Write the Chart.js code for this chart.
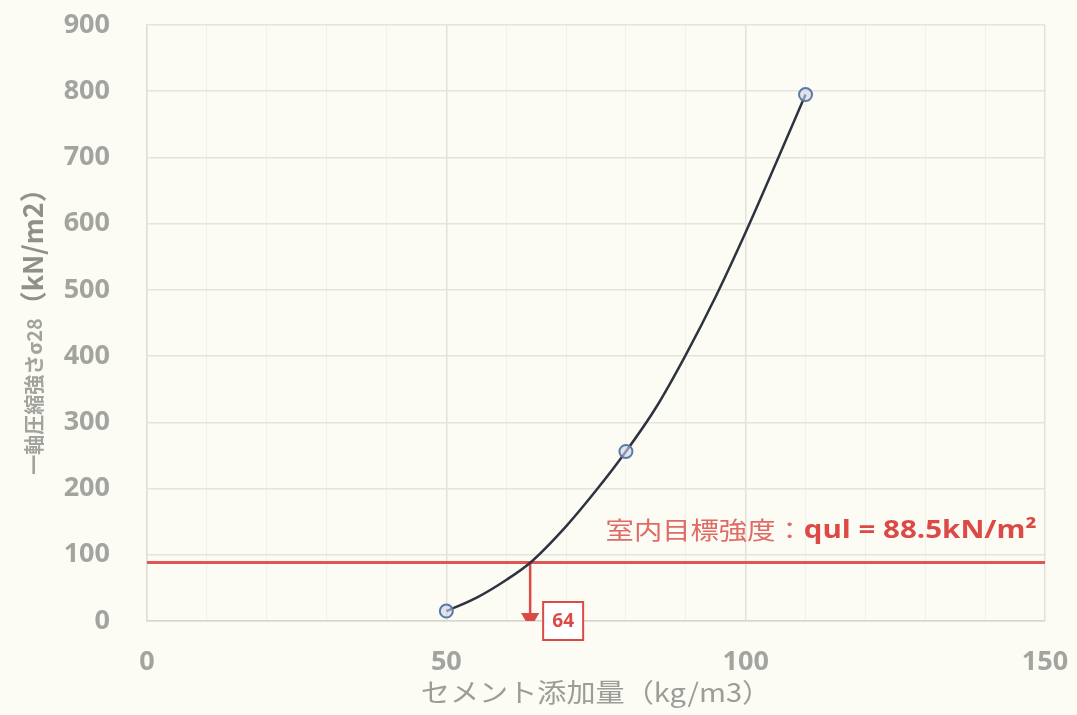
<!DOCTYPE html>
<html>
<head>
<meta charset="utf-8">
<script src="https://cdn.jsdelivr.net/npm/chart.js@4.4.1/dist/chart.umd.min.js"></script>
<style>
  html, body { margin: 0; padding: 0; background: #fcfcf5; }
  #wrap { width: 1077px; height: 715px; position: relative; }
</style>
</head>
<body>
<div id="wrap"><canvas id="c" width="1077" height="715"></canvas></div>
<script>
// ---- data ----
const measuredX = [50, 80, 110];                 // セメント添加量 (kg/m3)
const measuredY = [15, 256, 795];                // 一軸圧縮強さ (kN/m2)
const curveX = [50, 55, 60, 64, 70, 75, 80, 85, 90, 95, 100, 105, 110];
const curveY = [15, 35, 62, 88, 143, 197, 256, 322, 402, 490, 587, 690, 795];
const targetStrength = 88.5;                     // qul
const targetLineX = [0, 150];
const requiredCement = 64;
const arrowEndY = 4;
const xTickLabels = [0, 50, 100, 150];
const yTickLabels = [0, 100, 200, 300, 400, 500, 600, 700, 800, 900];
const xTitle = 'セメント添加量（kg/m3）';
const yTitleA = '一軸圧縮強さσ28';
const yTitleB = '（kN/m2）';
const targetLabelA = '室内目標強度：';
const targetLabelB = 'qul = 88.5kN/m²';

const RED = '#dc4a46';
const GRAY = '#a3a3a0';

const bgPlugin = {
  id: 'bg',
  beforeDraw(chart) {
    const ctx = chart.ctx;
    ctx.save();
    ctx.fillStyle = '#fcfcf5';
    ctx.fillRect(0, 0, chart.width, chart.height);
    ctx.restore();
  }
};

const annoPlugin = {
  id: 'anno',
  afterDraw(chart) {
    const ctx = chart.ctx;
    const xs = chart.scales.x, ys = chart.scales.y;
    ctx.save();
    // target label
    const lx = xs.getPixelForValue(76.6);
    const ly = ys.getPixelForValue(targetStrength) - 33;
    ctx.translate(lx, ly);
    ctx.scale(1.18, 1);
    ctx.textBaseline = 'middle';
    ctx.fillStyle = '#e06a66';
    ctx.font = '24px "Noto Sans CJK JP"';
    ctx.fillText(targetLabelA, 0, 0);
    const wa = ctx.measureText(targetLabelA).width;
    ctx.fillStyle = RED;
    ctx.font = 'bold 25px "Open Sans"';
    ctx.fillText(targetLabelB, wa, 1);
    ctx.restore();

    // "64" box
    ctx.save();
    const bx = xs.getPixelForValue(requiredCement) + 13;
    const by = ys.getPixelForValue(0) - 19;
    ctx.fillStyle = '#ffffff';
    ctx.fillRect(bx, by, 40, 38);
    ctx.strokeStyle = RED;
    ctx.lineWidth = 2;
    ctx.strokeRect(bx, by, 40, 38);
    ctx.fillStyle = RED;
    ctx.font = 'bold 19px "Open Sans"';
    ctx.textAlign = 'center';
    ctx.textBaseline = 'middle';
    ctx.fillText(String(requiredCement), bx + 20, by + 20);
    ctx.restore();

    // x title
    ctx.save();
    ctx.translate(596, 692);
    ctx.scale(1.12, 1);
    ctx.fillStyle = '#9c9c99';
    ctx.font = '26px "Noto Sans CJK JP"';
    ctx.textAlign = 'center';
    ctx.textBaseline = 'middle';
    ctx.fillText(xTitle, 0, 0);
    ctx.restore();

    // y title (rotated, mixed sizes)
    ctx.save();
    ctx.translate(33, 325);
    ctx.rotate(-Math.PI / 2);
    ctx.textBaseline = 'middle';
    ctx.font = 'bold 20px "Noto Sans CJK JP"';
    const w1 = ctx.measureText(yTitleA).width;
    ctx.font = 'bold 27px "Noto Sans CJK JP"';
    const w2 = ctx.measureText(yTitleB).width;
    let x0 = -(w1 + w2) / 2;
    ctx.fillStyle = '#a2a29f';
    ctx.font = 'bold 20px "Noto Sans CJK JP"';
    ctx.fillText(yTitleA, x0, 1);
    ctx.fillStyle = '#8f8f8c';
    ctx.font = 'bold 27px "Noto Sans CJK JP"';
    ctx.fillText(yTitleB, x0 + w1, 0);
    ctx.restore();
  }
};

const tickFont = { family: '"Open Sans"', size: 27, weight: 'bold' };

new Chart(document.getElementById('c'), {
  type: 'scatter',
  data: {
    datasets: [
      {
        label: 'target',
        data: targetLineX.map(x => ({ x, y: targetStrength })),
        showLine: true,
        borderColor: '#df5652',
        borderWidth: 3,
        pointRadius: 0,
        order: 3
      },
      {
        label: 'arrow',
        data: [{ x: requiredCement, y: targetStrength }, { x: requiredCement, y: arrowEndY }],
        showLine: true,
        borderColor: RED,
        borderWidth: 2.5,
        pointRadius: [0, 8],
        pointStyle: 'triangle',
        rotation: 180,
        pointBackgroundColor: RED,
        pointBorderColor: RED,
        order: 2
      },
      {
        label: 'curve',
        data: curveX.map((x, i) => ({ x, y: curveY[i] })),
        showLine: true,
        borderColor: '#2e3340',
        borderWidth: 2.5,
        pointRadius: 0,
        cubicInterpolationMode: 'monotone',
        order: 1
      },
      {
        label: 'measured',
        data: measuredX.map((x, i) => ({ x, y: measuredY[i] })),
        showLine: false,
        pointRadius: 6.5,
        pointBorderWidth: 2,
        pointBorderColor: '#5a78a8',
        pointBackgroundColor: 'rgba(205,214,232,0.6)',
        order: 0
      }
    ]
  },
  options: {
    responsive: false,
    animation: false,
    devicePixelRatio: 1,
    layout: { padding: { top: 25, right: 32, left: 0, bottom: 0 } },
    plugins: { legend: { display: false }, tooltip: { enabled: false } },
    scales: {
      x: {
        type: 'linear',
        min: 0, max: 150,
        afterFit(s) { s.height = 94; s.paddingLeft = 0; s.paddingRight = 0; },
        afterBuildTicks(s) {
          const t = [];
          for (let v = 0; v <= 150; v += 10) t.push({ value: v });
          s.ticks = t;
        },
        ticks: {
          autoSkip: false,
          maxRotation: 0,
          padding: 25,
          color: GRAY,
          font: tickFont,
          callback: v => xTickLabels.includes(v) ? String(v) : ''
        },
        grid: {
          drawTicks: false,
          color: c => (c.tick && c.tick.value % 50 === 0) ? '#e2e2dc' : '#f1f1ea',
          lineWidth: c => (c.tick && c.tick.value % 50 === 0) ? 1.5 : 1
        },
        border: { display: true, color: '#d6d6d0', width: 1.5 }
      },
      y: {
        type: 'linear',
        min: 0, max: 900,
        afterFit(s) { s.width = 147; s.paddingTop = 0; s.paddingBottom = 0; },
        afterBuildTicks(s) { s.ticks = yTickLabels.map(v => ({ value: v })); },
        ticks: {
          autoSkip: false,
          padding: 37,
          color: GRAY,
          font: tickFont,
          callback: v => String(v)
        },
        grid: { drawTicks: false, color: '#e4e4de', lineWidth: 1.5 },
        border: { display: true, color: '#e0e0da', width: 1.5 }
      }
    }
  },
  plugins: [bgPlugin, annoPlugin]
});
</script>
</body>
</html>
